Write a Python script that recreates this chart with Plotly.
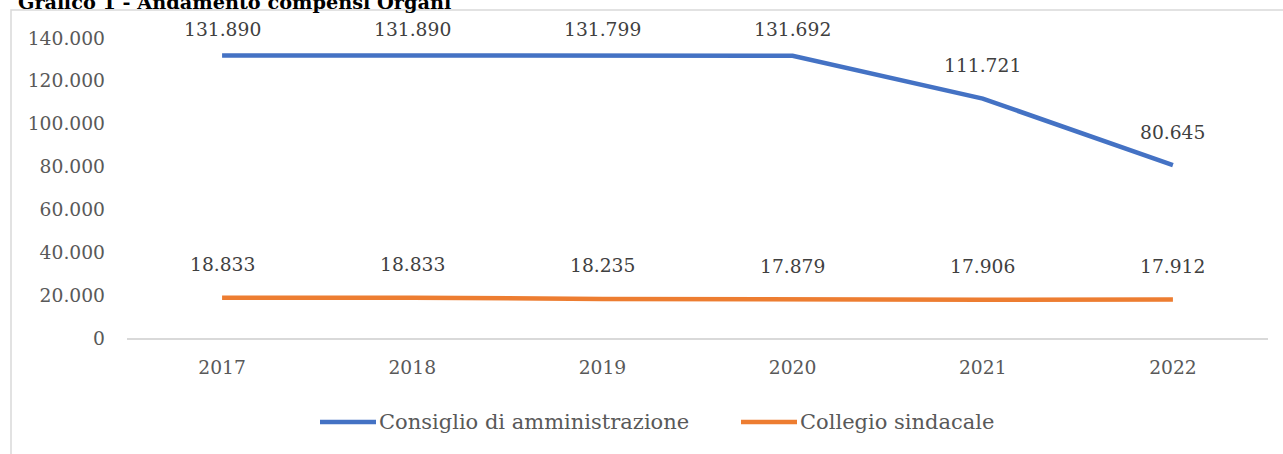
import plotly.graph_objects as go

years = ["2017", "2018", "2019", "2020", "2021", "2022"]
consiglio = [131890, 131890, 131799, 131692, 111721, 80645]
collegio = [18833, 18833, 18235, 17879, 17906, 17912]
series_names = ["Consiglio di amministrazione", "Collegio sindacale"]
y_ticks = [0, 20000, 40000, 60000, 80000, 100000, 120000, 140000]
title_text = "Grafico 1 - Andamento compensi Organi"

BLUE = "#4472C4"
ORANGE = "#ED7D31"
FONT = "DejaVu Serif"
FS = 18.7

def fmt(v):
    return f"{v:,}".replace(",", ".")

xidx = list(range(len(years)))

fig = go.Figure()
for name, vals, col in [(series_names[0], consiglio, BLUE), (series_names[1], collegio, ORANGE)]:
    fig.add_trace(go.Scatter(x=xidx, y=vals, mode="lines", name=name, showlegend=False,
                             line=dict(color=col, width=4.5), hoverinfo="skip"))

annotations = []
for vals in (consiglio, collegio):
    for i, v in zip(xidx, vals):
        annotations.append(dict(x=i, y=v, xref="x", yref="y", text=fmt(v), showarrow=False,
                                yshift=26 if v > 125000 else 33,
                                font=dict(family=FONT, size=FS, color="#404040")))

plot_l, plot_r, plot_t, plot_b = 127, 1268, 38, 338
W, H = 1283, 454
def px(xp):
    return (xp - plot_l) / (plot_r - plot_l)
def py(yp):
    return (plot_b - yp) / (plot_b - plot_t)

annotations.append(dict(x=px(16), y=py(16), xref="paper", yref="paper", xanchor="left", yanchor="bottom",
                        text="<b>" + title_text + "</b>", showarrow=False,
                        font=dict(family=FONT, size=19.3, color="#000000")))

shapes = [dict(type="rect", xref="paper", yref="paper", x0=px(11), y0=py(470), x1=px(1300), y1=py(10),
               line=dict(color="#D9D9D9", width=1.5), fillcolor="rgba(0,0,0,0)", layer="below")]

# custom legend (line sample + label)
legend_items = [(series_names[0], BLUE, 320, 376), (series_names[1], ORANGE, 741, 797)]
for name, col, x0, x1 in legend_items:
    shapes.append(dict(type="line", xref="paper", yref="paper", x0=px(x0), x1=px(x1), y0=py(422), y1=py(422),
                       line=dict(color=col, width=4.5)))
    annotations.append(dict(x=px(x1 + 1), y=py(422), xref="paper", yref="paper", xanchor="left",
                            yanchor="middle", text=name, showarrow=False,
                            font=dict(family=FONT, size=21, color="#595959")))

fig.update_layout(
    width=W, height=H,
    margin=dict(l=plot_l, r=W - plot_r, t=plot_t, b=H - plot_b, pad=0),
    paper_bgcolor="white", plot_bgcolor="white",
    showlegend=False,
    annotations=annotations,
    shapes=shapes,
    xaxis=dict(range=[-0.5, 5.5], tickvals=xidx, ticktext=years, showgrid=False, zeroline=False,
               showline=True, linecolor="#D9D9D9", linewidth=1.5, ticks="",
               ticklabelstandoff=12,
               tickfont=dict(family=FONT, size=FS, color="#595959")),
    yaxis=dict(range=[0, 140000], tickvals=y_ticks, ticktext=[fmt(v) for v in y_ticks],
               showgrid=False, zeroline=False, showline=False, ticks="",
               ticklabelstandoff=21,
               tickfont=dict(family=FONT, size=FS, color="#595959")),
)

fig.write_html("out.html", config={"displayModeBar": False},
               post_script="document.body.style.margin='0px';document.body.style.overflow='hidden';")
